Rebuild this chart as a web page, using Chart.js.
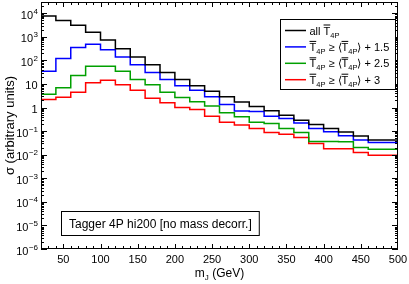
<!DOCTYPE html>
<html>
<head>
<meta charset="utf-8">
<script src="https://cdn.jsdelivr.net/npm/chart.js@4.4.0/dist/chart.umd.min.js"></script>
<style>
  html, body { margin: 0; padding: 0; background: #fff; }
</style>
</head>
<body>
<canvas id="sigmaChart" width="409" height="284"></canvas>
<script>
// m_J bin edges (GeV), 20 GeV bins
let binEdges = [20, 40, 60, 80, 100, 120, 140, 160, 180, 200, 220, 240, 260,
  280, 300, 320, 340, 360, 380, 400, 420, 440, 460, 480, 500]

// sigma per bin (arbitrary units)
let allT = [10500, 7700, 4900, 3100, 1580, 740, 310, 140, 66, 31, 15.4, 8.5,
  4.9, 2.9, 1.7, 1.12, 0.73, 0.47, 0.29, 0.19, 0.13, 0.092, 0.062, 0.042]
let cut15 = [19, 35, 120, 350, 480, 280, 140, 66, 31, 15.4, 8.5, 5.4,
  2.9, 1.35, 0.72, 0.68, 0.43, 0.34, 0.22, 0.13, 0.094, 0.063, 0.042, 0.033]
let cut25 = [6.9, 3.7, 6.9, 23, 56, 56, 35, 15.4, 9.2, 4.5, 2.7, 1.75,
  1.15, 0.6, 0.41, 0.24, 0.21, 0.128, 0.087, 0.036, 0.036, 0.035, 0.02, 0.017]
let cut3 = [5.4, 2.2, 2.75, 4.5, 11.2, 14.4, 9.2, 5.4, 2.5, 1.6, 1.0, 0.83,
  0.43, 0.24, 0.18, 0.13, 0.087, 0.073, 0.053, 0.03, 0.018, 0.018, 0.0123, 0.0095]

let xTicks = [50, 100, 150, 200, 250, 300, 350, 400, 450, 500]
let yDecades = [1e-6, 1e-5, 1e-4, 1e-3, 1e-2, 1e-1, 1, 10, 1e2, 1e3, 1e4]
let yExponents = [-6, -5, -4, -3, -2, -1, 0, 1, 2, 3, 4]
let legendCuts = ['', '1.5', '2.5', '3']
let boxText = 'Tagger 4P hi200 [no mass decorr.]'

let font = '"Liberation Sans", Arial, sans-serif'

// turn bin contents into step points (last value repeated at the upper edge)
function stepPoints(values) {
  let pts = []
  for (let i = 0; i < binEdges.length; i++) {
    pts.push({ x: binEdges[i], y: values[Math.min(i, values.length - 1)] })
  }
  return pts
}

function makeSet(label, values, color) {
  return {
    label: label,
    data: stepPoints(values),
    borderColor: color,
    borderWidth: 1.5,
    stepped: 'after',
    pointRadius: 0,
    fill: false,
  }
}

// T-bar with 4P subscript, returns x after it
function drawTbar(ctx, x, y) {
  ctx.font = '11px ' + font
  let w = ctx.measureText('T').width
  ctx.fillText('T', x, y)
  ctx.fillRect(x, y - 10, w, 1)
  x += w
  ctx.font = '7.5px ' + font
  ctx.fillText('4P', x, y + 3)
  x += ctx.measureText('4P').width
  ctx.font = '11px ' + font
  return x
}

function drawText(ctx, s, x, y) {
  ctx.fillText(s, x, y)
  return x + ctx.measureText(s).width
}

let decorations = {
  id: 'decorations',
  afterDraw(chart) {
    let ctx = chart.ctx
    let a = chart.chartArea
    let xs = chart.scales.x
    let ys = chart.scales.y
    ctx.save()
    ctx.strokeStyle = '#000'
    ctx.fillStyle = '#000'
    ctx.lineWidth = 1

    // frame
    ctx.strokeRect(a.left + 0.5, a.top + 0.5, a.right - a.left - 1, a.bottom - a.top - 1)

    // x ticks (inside, bottom and top)
    ctx.beginPath()
    for (let v = 30; v < 500; v += 10) {
      let px = Math.round(xs.getPixelForValue(v)) + 0.5
      let len = v % 50 === 0 ? 5 : 3
      ctx.moveTo(px, a.bottom); ctx.lineTo(px, a.bottom - len)
      ctx.moveTo(px, a.top); ctx.lineTo(px, a.top + len)
    }
    // y ticks (inside, left and right)
    for (let i = 0; i < yDecades.length; i++) {
      for (let k = 1; k < 10; k++) {
        let v = yDecades[i] * k
        if (v > ys.max || v < ys.min) continue
        let py = Math.round(ys.getPixelForValue(v)) + 0.5
        let len = k === 1 ? 6 : 3
        ctx.moveTo(a.left, py); ctx.lineTo(a.left + len, py)
        ctx.moveTo(a.right, py); ctx.lineTo(a.right - len, py)
      }
    }
    ctx.stroke()

    // x tick labels
    ctx.textAlign = 'center'
    ctx.textBaseline = 'alphabetic'
    ctx.font = '11px ' + font
    xTicks.forEach((v) => {
      ctx.fillText(String(v), xs.getPixelForValue(v), 263)
    })

    // y tick labels, 10 with superscript exponent
    ctx.textAlign = 'left'
    yDecades.forEach((v, i) => {
      let py = ys.getPixelForValue(v)
      let e = yExponents[i]
      let right = 37.5
      if (e === 0 || e === 1) {
        ctx.font = '11px ' + font
        let s = e === 0 ? '1' : '10'
        ctx.fillText(s, right - ctx.measureText(s).width, py + 5.5)
      } else {
        let sup = String(e).replace('-', '\u2212')
        ctx.font = '8px ' + font
        let ws = ctx.measureText(sup).width
        ctx.font = '11px ' + font
        let wb = ctx.measureText('10').width
        let x0 = right - ws - wb
        ctx.fillText('10', x0, py + 5.5)
        ctx.font = '8px ' + font
        ctx.fillText(sup, x0 + wb + 0.5, py + 0.5)
      }
    })

    // axis titles
    ctx.font = '12px ' + font
    let mw = ctx.measureText('m').width
    ctx.font = '8px ' + font
    let jw = ctx.measureText('J').width
    ctx.font = '12px ' + font
    let rest = ' (GeV)'
    let tw = mw + jw + ctx.measureText(rest).width
    let tx = (a.left + a.right) / 2 - tw / 2
    tx = drawText(ctx, 'm', tx, 277)
    ctx.font = '8px ' + font
    tx = drawText(ctx, 'J', tx, 280)
    ctx.font = '12px ' + font
    drawText(ctx, rest, tx, 277)

    ctx.save()
    ctx.translate(13.5, (a.top + a.bottom) / 2)
    ctx.rotate(-Math.PI / 2)
    ctx.textAlign = 'center'
    ctx.font = '13px ' + font
    ctx.fillText('\u03c3 (arbitrary units)', 0, 0)
    ctx.restore()

    // legend
    let lx = 280.5, ly = 19.5, lw = 115, lh = 70
    ctx.fillStyle = '#fff'
    ctx.fillRect(lx, ly, lw, lh)
    ctx.fillStyle = '#000'
    ctx.strokeRect(lx, ly, lw, lh)
    chart.data.datasets.forEach((ds, i) => {
      let ry = 30.5 + i * 16.4
      ctx.strokeStyle = ds.borderColor
      ctx.lineWidth = 1.5
      ctx.beginPath()
      ctx.moveTo(285, ry); ctx.lineTo(306, ry)
      ctx.stroke()
      let x = 309.5
      let base = ry + 4
      ctx.font = '11px ' + font
      if (legendCuts[i] === '') {
        x = drawText(ctx, 'all ', x, base)
        drawTbar(ctx, x, base)
      } else {
        x = drawTbar(ctx, x, base)
        x = drawText(ctx, ' \u2265 \u27e8', x, base)
        x = drawTbar(ctx, x, base)
        drawText(ctx, '\u27e9 + ' + legendCuts[i], x, base)
      }
    })

    // tagger box
    ctx.strokeStyle = '#000'
    ctx.lineWidth = 1
    ctx.font = '12px ' + font
    let bw = ctx.measureText(boxText).width
    ctx.strokeRect(61.5, 211.5, bw + 15, 24)
    ctx.fillText(boxText, 69, 228)
    ctx.restore()
  },
}

new Chart(document.getElementById('sigmaChart'), {
  type: 'line',
  data: {
    datasets: [
      makeSet('all', allT, '#000000'),
      makeSet('1.5', cut15, '#0000ff'),
      makeSet('2.5', cut25, '#00a000'),
      makeSet('3', cut3, '#ff0000'),
    ],
  },
  options: {
    responsive: false,
    animation: false,
    devicePixelRatio: 1,
    layout: { padding: { top: 2, right: 11, left: 0, bottom: 0 } },
    plugins: { legend: { display: false }, tooltip: { enabled: false } },
    scales: {
      x: {
        type: 'linear',
        min: 20,
        max: 500,
        grid: { display: false, drawTicks: false },
        border: { display: false },
        ticks: { display: false },
        afterFit: (scale) => { scale.height = 35 },
      },
      y: {
        type: 'logarithmic',
        min: 1e-6,
        max: 3e4,
        grid: { display: false, drawTicks: false },
        border: { display: false },
        ticks: { display: false },
        afterFit: (scale) => { scale.width = 41 },
      },
    },
  },
  plugins: [decorations],
})
</script>
</body>
</html>
